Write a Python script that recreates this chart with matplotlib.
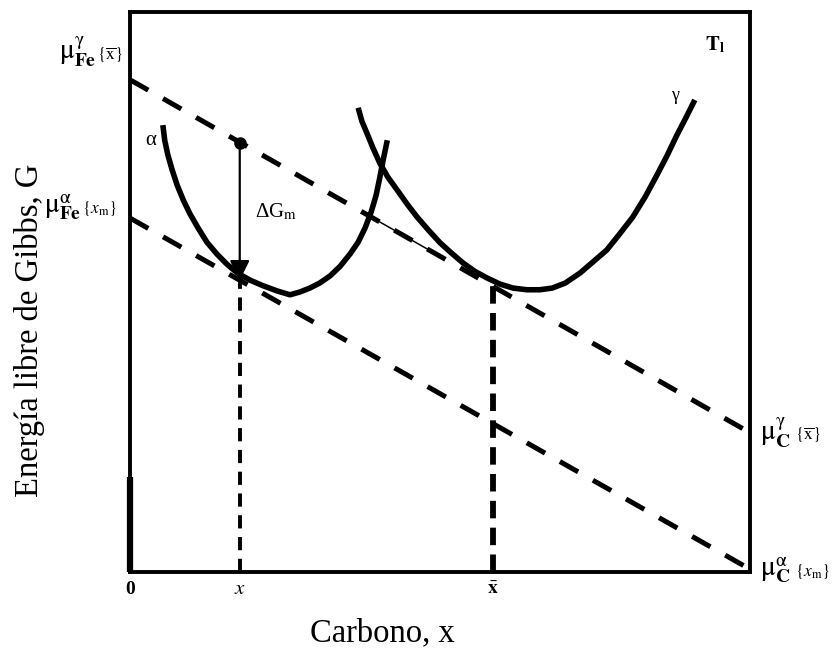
import matplotlib
matplotlib.use("Agg")
import matplotlib.pyplot as plt
import numpy as np

plt.rcParams['font.family'] = ['Liberation Serif', 'DejaVu Serif']
plt.rcParams['mathtext.fontset'] = 'stix'

# composition (0..1) and free energy (0..1), schematic units
alpha_x = [0.053, 0.056, 0.061, 0.068, 0.076, 0.086, 0.097, 0.110, 0.124,
           0.140, 0.156, 0.173, 0.194, 0.215, 0.237, 0.258, 0.274, 0.290,
           0.306, 0.323, 0.339, 0.355, 0.368, 0.379, 0.389, 0.397, 0.403,
           0.408, 0.415]
alpha_G = [0.798, 0.771, 0.745, 0.718, 0.691, 0.664, 0.639, 0.614, 0.589,
           0.568, 0.550, 0.534, 0.521, 0.511, 0.502, 0.495, 0.500, 0.507,
           0.516, 0.529, 0.546, 0.568, 0.589, 0.614, 0.643, 0.673, 0.705,
           0.734, 0.771]

gamma_x = [0.368, 0.374, 0.382, 0.392, 0.403, 0.416, 0.431, 0.447, 0.463,
           0.481, 0.500, 0.518, 0.537, 0.556, 0.576, 0.597, 0.618, 0.640,
           0.661, 0.681, 0.702, 0.726, 0.747, 0.769, 0.790, 0.811, 0.831,
           0.850, 0.866, 0.882, 0.897, 0.911]
gamma_G = [0.829, 0.805, 0.784, 0.757, 0.730, 0.705, 0.682, 0.657, 0.634,
           0.611, 0.588, 0.570, 0.552, 0.537, 0.525, 0.514, 0.507, 0.504,
           0.504, 0.507, 0.516, 0.534, 0.554, 0.575, 0.604, 0.634, 0.670,
           0.709, 0.743, 0.780, 0.812, 0.843]

# common tangents (x at ends, G at ends)
tan_gamma_x = [0.0, 0.99]
tan_gamma_G = [0.879, 0.255]
tan_alpha_x = [0.0, 1.0]
tan_alpha_G = [0.632, 0.005]

x_m = 0.177        # composition x
x_bar = 0.585      # composition x-bar
G_alpha_x = 0.529  # G of alpha at x
G_gamma_x = 0.766  # G on gamma tangent at x
G_gamma_xbar = 0.516

fig = plt.figure(figsize=(8.37, 6.52), dpi=100)
ax = fig.add_axes([130/837, 80/652, 620/837, 560/652])
ax.set_xlim(0, 1)
ax.set_ylim(0, 1)
ax.set_xticks([])
ax.set_yticks([])
for s in ax.spines.values():
    s.set_linewidth(2.8)

# tangent lines
ax.plot(tan_gamma_x, tan_gamma_G, color='k', lw=3.6, dashes=(4.2, 3.4),
        solid_capstyle='butt', clip_on=False)
ax.plot(tan_alpha_x, tan_alpha_G, color='k', lw=3.6, dashes=(4.2, 3.4),
        solid_capstyle='butt', clip_on=False)
# thin solid piece of upper tangent
k = (tan_gamma_G[1] - tan_gamma_G[0]) / (tan_gamma_x[1] - tan_gamma_x[0])
seg_x = np.array([0.39, 0.49])
ax.plot(seg_x, tan_gamma_G[0] + k * seg_x, color='k', lw=1.1)

# free energy curves
ax.plot(alpha_x, alpha_G, color='k', lw=4, solid_joinstyle='round',
        solid_capstyle='butt')
ax.plot(gamma_x, gamma_G, color='k', lw=4, solid_joinstyle='round',
        solid_capstyle='butt')

# composition drop lines
ax.plot([x_m, x_m], [0, G_alpha_x], color='k', lw=2.8, dashes=(3.4, 2.2))
ax.plot([x_bar, x_bar], [0, G_gamma_xbar], color='k', lw=4.2, dashes=(3.0, 1.6))

# driving force arrow
ax.plot([x_m], [G_gamma_x], 'o', color='k', ms=8)
ax.annotate('', xy=(x_m, G_alpha_x - 0.008), xytext=(x_m, G_gamma_x),
            arrowprops=dict(arrowstyle='-|>,head_length=1.2,head_width=0.6',
                            color='k', lw=1.6, shrinkA=0, shrinkB=0))
ax.text(0.202, 0.643, 'ΔG$_{\\mathrm{m}}$', fontsize=15, va='center')

# thicker stub of left axis near origin
ax.plot([0, 0], [0, 0.17], color='k', lw=4.5, solid_capstyle='butt', clip_on=False)

ax.text(0.034, 0.771, 'α', fontsize=15, ha='center', va='center')
ax.text(0.879, 0.850, 'γ', fontsize=13, ha='center', va='center')
ax.text(0.944, 0.941, r'$\mathbf{T}_{\mathbf{l}}$', fontsize=15, ha='center', va='center')

# chemical potential labels
mu_fs = 20
br_fs = 12.5
ax.text(-0.055, 0.914, r'$\mathrm{\mu}^{\mathrm{\gamma}}_{\mathbf{Fe}}$', fontsize=mu_fs,
        ha='right', va='baseline', clip_on=False)
ax.text(-0.053, 0.914, r'$\{\overline{\mathrm{x}}\}$', fontsize=br_fs,
        ha='left', va='baseline', clip_on=False)
ax.text(-0.079, 0.641, r'$\mathrm{\mu}^{\mathrm{\alpha}}_{\mathbf{Fe}}$', fontsize=mu_fs,
        ha='right', va='baseline', clip_on=False)
ax.text(-0.077, 0.641, r'$\{x_{\mathrm{m}}\}$', fontsize=br_fs,
        ha='left', va='baseline', clip_on=False)
ax.text(1.016, 0.236, r'$\mathrm{\mu}^{\mathrm{\gamma}}_{\mathbf{C}}$', fontsize=mu_fs,
        ha='left', va='baseline', clip_on=False)
ax.text(1.073, 0.236, r'$\{\overline{\mathrm{x}}\}$', fontsize=br_fs,
        ha='left', va='baseline', clip_on=False)
ax.text(1.016, -0.007, r'$\mathrm{\mu}^{\mathrm{\alpha}}_{\mathbf{C}}$', fontsize=mu_fs,
        ha='left', va='baseline', clip_on=False)
ax.text(1.073, -0.007, r'$\{x_{\mathrm{m}}\}$', fontsize=br_fs,
        ha='left', va='baseline', clip_on=False)

# composition tick labels
ax.text(0.0, -0.032, '0', fontsize=14, fontweight='bold', ha='center', va='center')
ax.text(x_m, -0.032, r'$x$', fontsize=15, ha='center', va='center')
ax.text(x_bar, -0.032, r'$\bar{\mathbf{x}}$', fontsize=14, ha='center', va='center')

fig.text(382/837, 1 - 633/652, 'Carbono, x', fontsize=23.5, ha='center', va='center')
fig.text(30/837, 1 - 330/652, 'Energía libre de Gibbs, G', fontsize=23.5,
         ha='center', va='center', rotation=90)

fig.savefig('out.png', dpi=100)
